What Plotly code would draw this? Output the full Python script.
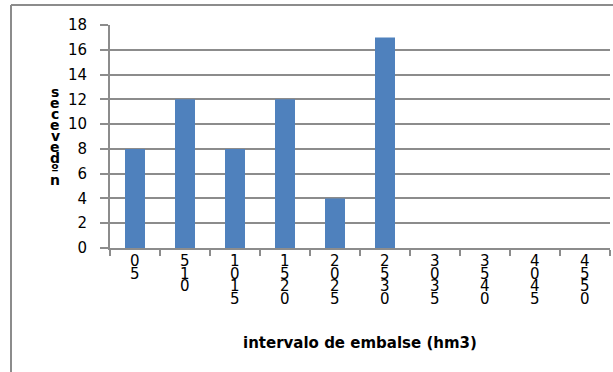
import plotly.graph_objects as go

# Frequency of reservoir-volume intervals
categories = ["0 5", "5 10", "10 15", "15 20", "20 25",
              "25 30", "30 35", "35 40", "40 45", "45 50"]
counts = [8, 12, 8, 12, 4, 17, 0, 0, 0, 0]
y_ticks = [0, 2, 4, 6, 8, 10, 12, 14, 16, 18]
x_title = "intervalo de embalse (hm3)"
y_title = "nº de veces"

GRID = "#8c8c8c"
BAR = "#4f81bd"
FONT = "DejaVu Sans"

fig = go.Figure(go.Bar(
    x=categories, y=counts,
    marker=dict(color=BAR, line=dict(width=0)),
    width=0.4,
))

W, H = 613, 372
L, R, T, B = 110, 3, 25, 124
plot_h = H - T - B

annotations = []
# Category labels: one character per line, tightly stacked
for cat in categories:
    chars = [c for c in cat if c != " "]
    for j, ch in enumerate(chars):
        py = 261 + 12.6 * j
        annotations.append(dict(
            x=cat, xref="x", y=0, yref="paper", yshift=(H - B) - py,
            text=ch, showarrow=False, xanchor="center", yanchor="middle",
            font=dict(family=FONT, size=15, color="#000000"),
        ))

# Vertical axis title, characters stacked bottom-to-top
title_chars = [c for c in y_title[::-1] if c != " "]
for j, ch in enumerate(title_chars):
    py = 92 + 11 * j
    annotations.append(dict(
        x=0, xref="paper", xshift=55 - L, y=1, yref="paper", yshift=T - py,
        text=f"<b>{ch}</b>", showarrow=False, xanchor="center", yanchor="middle",
        font=dict(family=FONT, size=14, color="#000000"),
    ))

annotations.append(dict(
    x=0.5, xref="paper", y=0, yref="paper", yshift=(H - B) - 343,
    text=f"<b>{x_title}</b>", showarrow=False, xanchor="center", yanchor="middle",
    font=dict(family=FONT, size=15, color="#000000"),
))

# Chart-area frame (top and left edges visible)
frame_left = (11 - L) / (W - L - R)
frame_top = ((H - B) - 5) / plot_h
shapes = [
    dict(type="line", xref="paper", yref="paper", x0=frame_left, x1=frame_left,
         y0=-2, y1=frame_top, line=dict(color=GRID, width=2)),
    dict(type="line", xref="paper", yref="paper", x0=frame_left, x1=1.2,
         y0=frame_top, y1=frame_top, line=dict(color=GRID, width=2)),
]

fig.update_layout(
    width=W, height=H,
    margin=dict(l=L, r=R, t=T, b=B, pad=0),
    paper_bgcolor="white", plot_bgcolor="white",
    showlegend=False, bargap=0.6,
    annotations=annotations, shapes=shapes,
    font=dict(family=FONT, size=15, color="#000000"),
)
fig.update_xaxes(
    type="category", showticklabels=False, showgrid=False,
    showline=True, linecolor=GRID, linewidth=2,
    ticks="outside", ticklen=6, tickwidth=2, tickcolor=GRID,
    tickson="boundaries",
)
fig.update_yaxes(
    range=[0, 18], tickvals=y_ticks, showgrid=True, gridcolor=GRID, gridwidth=2,
    showline=True, linecolor=GRID, linewidth=2, zeroline=False,
    ticks="outside", ticklen=8, tickwidth=2, tickcolor=GRID,
    ticklabelstandoff=10,
    tickfont=dict(family=FONT, size=15, color="#000000"),
)

fig.write_html("out.html")
